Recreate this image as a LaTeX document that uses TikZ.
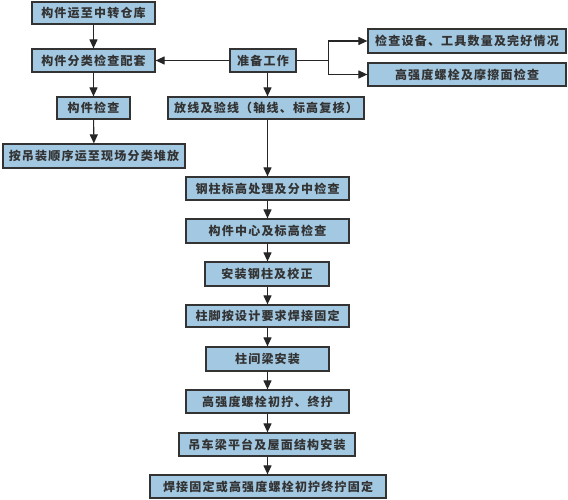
\documentclass[tikz,border=0pt]{standalone}
\usepackage{fontspec}
\setmainfont{Noto Sans CJK SC}[LetterSpace=10]
\usetikzlibrary{arrows.meta}
\definecolor{boxfill}{HTML}{A3C9E2}
\definecolor{boxline}{HTML}{333333}
\tikzset{
  stepbox/.style={draw=boxline, line width=1.2pt, fill=boxfill, inner sep=0pt,
    font=\fontsize{12}{14}\selectfont\bfseries, text=black!80, anchor=center},
  conn/.style={draw=black!85, line width=1.1pt, -{Triangle[length=9pt,width=8pt]}},
  plain/.style={draw=black!85, line width=1.1pt}
}
\begin{document}
\begin{tikzpicture}[x=1pt,y=-1pt]
\useasboundingbox (0,0) rectangle (568,500);
\fill[white] (0,0) rectangle (568,500);
\node[stepbox, minimum width=123pt, minimum height=22pt] (b1) at (93.5,13) {构件运至中转仓库};
\node[stepbox, minimum width=123pt, minimum height=23pt] (b2) at (93.5,60.5) {构件分类检查配套};
\node[stepbox, minimum width=73pt, minimum height=22pt] (b3) at (93.5,108) {构件检查};
\node[stepbox, minimum width=182pt, minimum height=24pt] (b4) at (94,156) {按吊装顺序运至现场分类堆放};
\node[stepbox, minimum width=66pt, minimum height=23pt] (p) at (263,60.5) {准备工作};
\node[stepbox, minimum width=198pt, minimum height=24pt] (r1) at (467,41) {检查设备、工具数量及完好情况};
\node[stepbox, minimum width=198pt, minimum height=23pt] (r2) at (467,74.5) {高强度螺栓及摩擦面检查};
\node[stepbox, minimum width=196pt, minimum height=22pt] (f) at (266,108) {放线及验线（轴线、标高复核）};
\node[stepbox, minimum width=163pt, minimum height=23pt] (m1) at (267.5,188.5) {钢柱标高处理及分中检查};
\node[stepbox, minimum width=163pt, minimum height=24pt] (m2) at (267.5,231) {构件中心及标高检查};
\node[stepbox, minimum width=124pt, minimum height=24pt] (m3) at (267,274) {安装钢柱及校正};
\node[stepbox, minimum width=163pt, minimum height=22pt] (m4) at (267.5,316) {柱脚按设计要求焊接固定};
\node[stepbox, minimum width=123pt, minimum height=24pt] (m5) at (267.5,359) {柱间梁安装};
\node[stepbox, minimum width=163pt, minimum height=23pt] (m6) at (267.5,401.5) {高强度螺栓初拧、终拧};
\node[stepbox, minimum width=176pt, minimum height=23pt] (m7) at (267,444.5) {吊车梁平台及屋面结构安装};
\node[stepbox, minimum width=236pt, minimum height=23pt] (m8) at (268,486.5) {焊接固定或高强度螺栓初拧终拧固定};
% left column
\draw[conn] (b1) -- (b2);
\draw[conn] (b2) -- (b3);
\draw[conn] (b3) -- (b4);
\draw[conn] (p) -- (b2);
% branch
\draw[plain] (p.east) -- ++(32,0) coordinate (br);
\draw[conn] (br) |- (r1.west);
\draw[conn] (br) |- (r2.west);
% main column
\draw[conn] (p.south -| m1.center) -- (f.north -| m1.center);
\draw[conn] (f.south -| m1.center) -- (m1.north);
\draw[conn] (m1) -- (m2);
\draw[conn] (m2) -- (m3.north -| m2.center);
\draw[conn] (m3.south -| m2.center) -- (m4);
\draw[conn] (m4) -- (m5);
\draw[conn] (m5) -- (m6);
\draw[conn] (m6) -- (m7.north -| m6.center);
\draw[conn] (m7.south -| m6.center) -- (m8.north -| m6.center);
\end{tikzpicture}
\end{document}
